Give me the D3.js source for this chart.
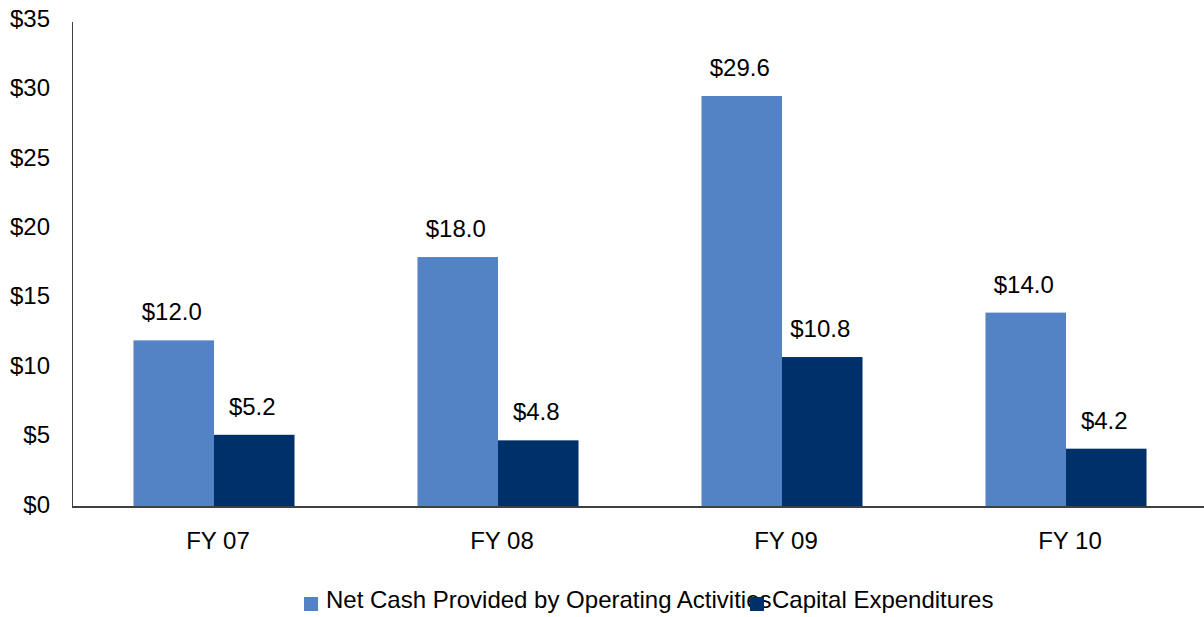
<!DOCTYPE html>
<html lang="en">
    <head>
        <meta charset="utf-8">
        <title>Cash Flow Chart</title>
        <script type="text/javascript" src="https://cdn.jsdelivr.net/npm/d3@7"></script>
        <style>
            body { margin: 0; background: #fff; }
            .axis path, .axis line { fill: none; stroke: #404040; stroke-width: 1.5px; shape-rendering: crispEdges; }
            text { font-family: "Liberation Sans", Arial, sans-serif; font-size: 24px; fill: #000; }
        </style>
    </head>
    <body>
        <script type="text/javascript">
            var w = 1204;
            var h = 617;

            var categories = ["FY 07", "FY 08", "FY 09", "FY 10"];
            var seriesNames = ["Net Cash Provided by Operating Activities", "Capital Expenditures"];
            var operating = [12.0, 18.0, 29.6, 14.0];
            var capex = [5.2, 4.8, 10.8, 4.2];
            var yTicks = [0, 5, 10, 15, 20, 25, 30, 35];
            var colors = ["#5383C4", "#00306A"];

            // plot edges (avoid the name "top", it is taken by window.top)
            var plotLeft = 72, plotRight = 1208, plotBottom = 507, plotTop = 21;

            var x0 = d3.scaleBand().domain(categories).range([plotLeft, plotRight])
                       .paddingInner(0.433).paddingOuter(0.2165);
            var x1 = d3.scaleBand().domain([0, 1]).range([0, x0.bandwidth()]);
            var y = d3.scaleLinear().domain([0, 35]).range([plotBottom, plotTop]);

            var svg = d3.select("body").append("svg").attr("width", w).attr("height", h);

            var groups = svg.selectAll("g.cat").data(categories).enter().append("g")
                            .attr("class", "cat")
                            .attr("transform", function (d) { return "translate(" + x0(d) + ",0)"; });

            groups.selectAll("rect").data(function (d, i) { return [operating[i], capex[i]]; })
                  .enter().append("rect")
                  .attr("x", function (d, j) { return x1(j); })
                  .attr("y", function (d) { return y(d); })
                  .attr("width", x1.bandwidth())
                  .attr("height", function (d) { return plotBottom - y(d); })
                  .attr("fill", function (d, j) { return colors[j]; });

            groups.selectAll("text.val").data(function (d, i) { return [operating[i], capex[i]]; })
                  .enter().append("text")
                  .attr("class", "val")
                  .attr("x", function (d, j) { return x1(j) + x1.bandwidth() / 2 - 2; })
                  .attr("y", function (d) { return y(d) - 20; })
                  .attr("text-anchor", "middle")
                  .text(function (d) { return "$" + d.toFixed(1); });

            // y axis: line only, labels on the left
            var yaxis = d3.axisLeft(y).tickValues(yTicks).tickSize(0).tickPadding(22)
                          .tickFormat(function (d) { return "$" + d; });
            var gy = svg.append("g").attr("class", "y axis")
                        .attr("transform", "translate(" + plotLeft + ",0)").call(yaxis);
            gy.selectAll("text").style("font-size", "24px").attr("dy", "0.22em");

            var xaxis = d3.axisBottom(x0).tickSize(0).tickPadding(25);
            var gx = svg.append("g").attr("class", "x axis")
                        .attr("transform", "translate(0," + plotBottom + ")").call(xaxis);
            gx.select(".domain").attr("d", "M" + plotLeft + ",0H" + w);
            gx.selectAll("text").style("font-size", "24px").attr("dx", 4);
            gy.attr("font-family", null).attr("font-size", null);
            gx.attr("font-family", null).attr("font-size", null);

            // legend
            var legendX = [304, 750];
            var legend = svg.selectAll("g.legend").data(seriesNames).enter().append("g")
                            .attr("class", "legend")
                            .attr("transform", function (d, i) { return "translate(" + legendX[i] + ",597)"; });
            legend.append("text").attr("x", 22).attr("y", 11).text(function (d) { return d; });
            legend.append("rect").attr("width", 14).attr("height", 14)
                  .attr("fill", function (d, i) { return colors[i]; });
        </script>
    </body>
</html>
